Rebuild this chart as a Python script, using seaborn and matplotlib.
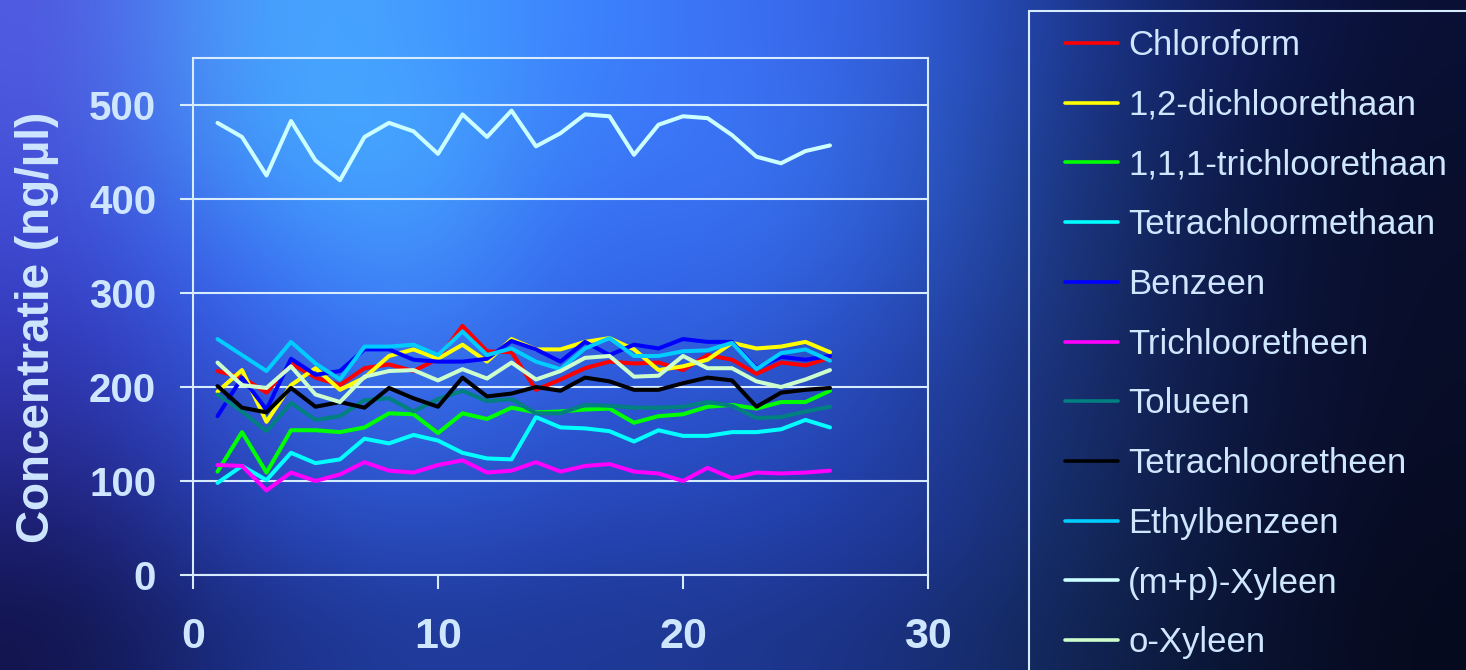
import numpy as np
import pandas as pd
import matplotlib
matplotlib.use("Agg")
import matplotlib.pyplot as plt
from matplotlib import font_manager as fm
from matplotlib.colors import to_rgb
from matplotlib.patches import Rectangle
import seaborn as sns

# ---- data -----------------------------------------------------------------
runs = list(range(1, 27))

compounds = [
    "Chloroform", "1,2-dichloorethaan", "1,1,1-trichloorethaan",
    "Tetrachloormethaan", "Benzeen", "Trichlooretheen", "Tolueen",
    "Tetrachlooretheen", "Ethylbenzeen", "(m+p)-Xyleen", "o-Xyleen",
]

chloroform = [217, 210, 194, 225, 210, 202, 220, 224, 217, 230, 265, 238, 237,
              197, 208, 220, 227, 225, 226, 218, 234, 229, 214, 226, 223, 231]
dichloorethaan = [195, 218, 163, 202, 220, 197, 210, 233, 240, 230, 245, 227, 251,
                  240, 240, 248, 252, 240, 218, 222, 229, 247, 241, 243, 248, 237]
trichloorethaan = [110, 152, 109, 154, 154, 152, 157, 172, 171, 151, 172, 166, 178,
                   173, 174, 176, 177, 162, 169, 171, 179, 181, 177, 184, 184, 196]
tetrachloormethaan = [98, 116, 101, 130, 119, 123, 145, 140, 149, 143, 130, 124, 123,
                      168, 157, 156, 153, 142, 154, 148, 148, 152, 152, 155, 165, 157]
benzeen = [169, 210, 176, 230, 213, 217, 240, 240, 229, 227, 227, 230, 249,
           240, 227, 248, 234, 245, 241, 251, 248, 248, 220, 232, 229, 233]
trichlooretheen = [117, 116, 90, 109, 100, 107, 120, 111, 109, 117, 122, 109, 111,
                   120, 110, 116, 118, 110, 108, 100, 114, 103, 109, 108, 109, 111]
tolueen = [192, 174, 153, 183, 165, 169, 186, 188, 174, 187, 196, 185, 187,
           172, 172, 181, 180, 178, 178, 179, 184, 180, 167, 168, 174, 179]
tetrachlooretheen = [201, 178, 173, 199, 179, 184, 178, 199, 188, 179, 210, 190, 193,
                     200, 196, 210, 206, 197, 197, 204, 210, 207, 179, 194, 197, 199]
ethylbenzeen = [251, 234, 217, 248, 225, 208, 243, 243, 245, 234, 259, 234, 241,
                227, 219, 241, 252, 233, 233, 238, 239, 247, 219, 236, 240, 228]
mp_xyleen = [481, 466, 425, 483, 441, 420, 466, 481, 472, 448, 490, 466, 494,
             456, 470, 490, 488, 447, 479, 488, 486, 468, 445, 438, 451, 457]
o_xyleen = [226, 202, 199, 222, 192, 184, 211, 217, 218, 207, 219, 209, 226,
            208, 217, 231, 233, 211, 212, 233, 220, 220, 206, 200, 208, 218]

series = [chloroform, dichloorethaan, trichloorethaan, tetrachloormethaan,
          benzeen, trichlooretheen, tolueen, tetrachlooretheen, ethylbenzeen,
          mp_xyleen, o_xyleen]

line_colors = ["#FF0000", "#FFFF00", "#00FF00", "#00FFFF", "#0000FF", "#FF00FF",
               "#008080", "#000000", "#00CCFF", "#CCFFFF", "#CCFFCC"]

y_ticks = [0, 100, 200, 300, 400, 500]
x_ticks = [0, 10, 20, 30]

df = pd.DataFrame({
    "run": runs * len(compounds),
    "conc": [v for s in series for v in s],
    "stof": [c for c in compounds for _ in runs],
})

# ---- style ----------------------------------------------------------------
sns.set_style("white")
plt.rcParams["font.family"] = ["Liberation Sans", "DejaVu Sans"]

ink = "#CFE6FF"
frame = "#D8ECFF"

try:
    fm.findfont(fm.FontProperties(family="Liberation Sans Narrow", weight="bold"),
                fallback_to_default=False)
    ylabel_family, ylabel_size = ["Liberation Sans Narrow", "Liberation Sans"], 38
except ValueError:
    ylabel_family, ylabel_size = ["Liberation Sans", "DejaVu Sans"], 33

W, H = 1466, 670
fig = plt.figure(figsize=(W / 100, H / 100), dpi=100)

# ---- backdrop: smooth blue gradient ----------------------------------------
bg_hex = [
    ["#5058E0", "#48A8FF", "#45A0FF", "#3C84FF", "#3C70F4", "#3460E0", "#1E3C98", "#101C58", "#0A1034"],
    ["#4850D8", "#40A0FF", "#48B0FF", "#3A78F8", "#3C78F8", "#3060D8", "#1C3A88", "#0E1A4C", "#080E2C"],
    ["#3E48D0", "#3A78F8", "#48A0FF", "#3468F0", "#3870F0", "#2C58D0", "#1C3880", "#0E1A48", "#080E2A"],
    ["#3438B8", "#3460E8", "#3C80F8", "#3060E4", "#3060E0", "#2848B8", "#1A3478", "#0E1844", "#080D28"],
    ["#2A2C98", "#2E50D0", "#3468E4", "#2C50D0", "#2850C8", "#2440A8", "#183070", "#0E1840", "#080C26"],
    ["#1C1E70", "#2640B0", "#2A50C4", "#2644B4", "#2444B0", "#2038A0", "#163066", "#0C163C", "#070B22"],
    ["#12144C", "#1C3088", "#203C9C", "#1E3898", "#1E3890", "#1A3080", "#122858", "#0A1434", "#060A1E"],
]
bg = np.array([[to_rgb(c) for c in row] for row in bg_hex])
bg_ax = fig.add_axes([0, 0, 1, 1], zorder=-10)
bg_ax.imshow(bg, extent=[0, W, H, 0], aspect="auto", interpolation="bicubic")
bg_ax.set_xlim(0, W)
bg_ax.set_ylim(H, 0)
bg_ax.axis("off")

# ---- main chart -----------------------------------------------------------
ax = fig.add_axes([193 / W, 1 - 575 / H, (928 - 193) / W, (575 - 58) / H])
ax.patch.set_alpha(0)

sns.lineplot(data=df, x="run", y="conc", hue="stof", hue_order=compounds,
             palette=dict(zip(compounds, line_colors)), linewidth=2.9,
             ax=ax, legend=True)

ax.set_xlim(0, 30)
ax.set_ylim(0, 550)
ax.set_xticks(x_ticks)
ax.set_yticks(y_ticks)
ax.set_xticklabels([str(t) for t in x_ticks])
ax.set_yticklabels([str(t) for t in y_ticks])
ax.set_xlabel("")
ax.set_ylabel("Concentratie (ng/µl)", color=ink, fontsize=ylabel_size,
              fontweight="bold", family=ylabel_family, va="center")
ax.yaxis.set_label_coords((37 - 193) / (928 - 193), (575 - 327) / (575 - 58))

ax.grid(axis="y", color=frame, linewidth=1.5)
ax.grid(axis="x", visible=False)
for sp in ax.spines.values():
    sp.set_visible(True)
    sp.set_color(frame)
    sp.set_linewidth(1.5)

ax.tick_params(axis="y", direction="out", length=9.5, width=1.5, color=frame,
               pad=17, labelsize=29, labelcolor=ink, left=True)
ax.tick_params(axis="x", direction="out", length=10, width=1.5, color=frame,
               pad=20, labelsize=31, labelcolor=ink, bottom=True)
for lab in ax.get_xticklabels() + ax.get_yticklabels():
    lab.set_fontweight("bold")

# ---- legend ---------------------------------------------------------------
handles, labels = ax.get_legend_handles_labels()
ax.get_legend().remove()
for h in handles:
    h.set_linewidth(2.6)

fig.add_artist(Rectangle((1029 / W, -0.05), 1.0, (1 - 11 / H) + 0.05,
                         transform=fig.transFigure, fill=False,
                         edgecolor=frame, linewidth=1.5))
fig.legend(handles, labels, loc="upper left",
           bbox_to_anchor=(1065 / W, 1 - 29 / H), frameon=False,
           fontsize=25, labelcolor=ink, borderpad=0, borderaxespad=0,
           handlelength=1.53, handletextpad=0.29, labelspacing=0.77)

fig.savefig("out.png", dpi=100)
